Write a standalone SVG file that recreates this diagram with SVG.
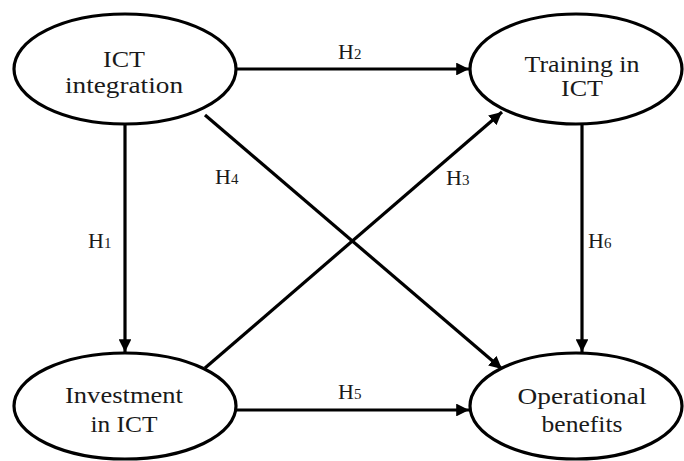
<svg xmlns="http://www.w3.org/2000/svg" width="684" height="461" viewBox="0 0 684 461">
<style>
.n{fill:#fff;stroke:#000;stroke-width:3.2}
.t{font-family:"Liberation Serif","DejaVu Serif",serif;font-size:23px;fill:#1a1a1a;text-anchor:middle}
.l{font-family:"Liberation Serif","DejaVu Serif",serif;font-size:22px;fill:#1a1a1a}
.s{font-size:15px}
.c{stroke:#000;stroke-width:3.2;fill:none;marker-end:url(#ah)}
</style>
<defs>
<marker id="ah" viewBox="0 0 10 10" refX="10" refY="5" markerWidth="4" markerHeight="4" orient="auto" markerUnits="strokeWidth">
<path d="M0,0 L10,5 L0,10 z" fill="#000"/>
</marker>
</defs>
<g id="connectors">
<line class="c" x1="237" y1="69" x2="469" y2="69"/>
<line class="c" x1="125" y1="125" x2="125" y2="352"/>
<line class="c" x1="582" y1="125" x2="582" y2="352"/>
<line class="c" x1="237" y1="410" x2="469" y2="410"/>
<line class="c" x1="205" y1="115" x2="502" y2="369"/>
<line class="c" x1="205" y1="368" x2="502" y2="112"/>
<text class="l" x="338" y="59">H<tspan class="s">2</tspan></text>
<text class="l" x="88" y="248">H<tspan class="s">1</tspan></text>
<text class="l" x="588" y="248">H<tspan class="s">6</tspan></text>
<text class="l" x="215" y="184">H<tspan class="s">4</tspan></text>
<text class="l" x="446" y="185">H<tspan class="s">3</tspan></text>
<text class="l" x="338" y="399">H<tspan class="s">5</tspan></text>
</g>
<g id="ict-integration">
<ellipse class="n" cx="125" cy="69" rx="111" ry="55"/>
<text class="t" x="124" y="67" textLength="42" lengthAdjust="spacingAndGlyphs">ICT</text>
<text class="t" x="124" y="93" textLength="118" lengthAdjust="spacingAndGlyphs">integration</text>
</g>
<g id="training-in-ict">
<ellipse class="n" cx="576" cy="69" rx="106" ry="55"/>
<text class="t" x="582" y="72" textLength="115" lengthAdjust="spacingAndGlyphs">Training in</text>
<text class="t" x="582" y="96" textLength="42" lengthAdjust="spacingAndGlyphs">ICT</text>
</g>
<g id="investment-in-ict">
<ellipse class="n" cx="125" cy="406" rx="111" ry="53"/>
<text class="t" x="124" y="403" textLength="118" lengthAdjust="spacingAndGlyphs">Investment</text>
<text class="t" x="124" y="432" textLength="67" lengthAdjust="spacingAndGlyphs">in ICT</text>
</g>
<g id="operational-benefits">
<ellipse class="n" cx="576" cy="406" rx="106" ry="53"/>
<text class="t" x="582" y="404" textLength="129" lengthAdjust="spacingAndGlyphs">Operational</text>
<text class="t" x="582" y="432" textLength="81" lengthAdjust="spacingAndGlyphs">benefits</text>
</g>
</svg>
